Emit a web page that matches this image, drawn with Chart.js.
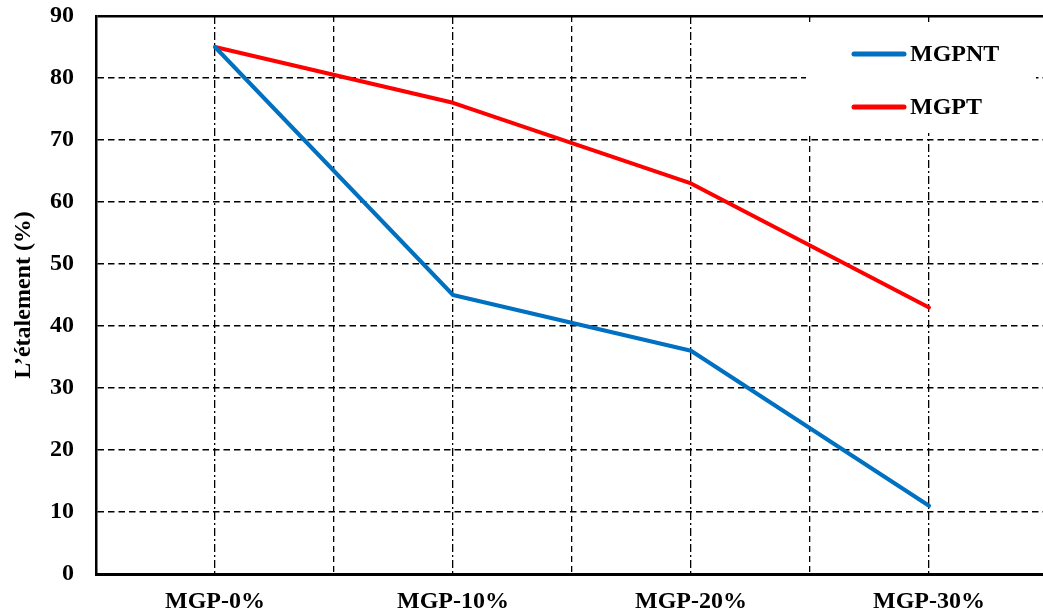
<!DOCTYPE html>
<html><head><meta charset="utf-8">
<script src="https://cdn.jsdelivr.net/npm/chart.js@4"></script>
<style>html,body{margin:0;padding:0;overflow:hidden;background:#fff}#wrap{position:relative;width:1050px;height:616px}</style>
</head><body><div id="wrap"><canvas id="c"></canvas></div>
<script>
const categories = ['MGP-0%', 'MGP-10%', 'MGP-20%', 'MGP-30%'];
const seriesNames = ['MGPNT', 'MGPT'];
const mgpnt = [85, 45, 36, 11];
const mgpt = [85, 76, 63, 43];
const yTicks = [0, 10, 20, 30, 40, 50, 60, 70, 80, 90];
const yTitle = 'L’étalement (%)';

const FONT = '"Liberation Serif", "Times New Roman", serif';
const colors = ['#0070C0', '#FF0000'];

const boxLegend = {
  id: 'boxLegend',
  beforeDatasetsDraw(chart) {
    const ctx = chart.ctx, a = chart.chartArea;
    const bx = a.right - 242, by = a.top + 6, bw = 230, bh = 111;
    ctx.save();
    ctx.fillStyle = '#fff';
    ctx.fillRect(bx, by, bw, bh);
    ctx.font = 'bold 24px ' + FONT;
    ctx.textBaseline = 'middle';
    ctx.fillStyle = '#000';
    ctx.lineCap = 'round';
    chart.data.datasets.forEach((ds, i) => {
      const y = by + 32 + i * 53;
      ctx.strokeStyle = ds.borderColor;
      ctx.lineWidth = 5;
      ctx.beginPath();
      ctx.moveTo(bx + 48, y);
      ctx.lineTo(bx + 98, y);
      ctx.stroke();
      ctx.fillText(ds.label, bx + 104, y + 1);
    });
    ctx.restore();
  }
};

new Chart(document.getElementById('c'), {
  type: 'line',
  data: {
    labels: categories,
    datasets: [
      { label: seriesNames[0], data: mgpnt, borderColor: colors[0], backgroundColor: colors[0], borderWidth: 4, pointRadius: 0, tension: 0, borderCapStyle: 'round', borderJoinStyle: 'round', fill: false },
      { label: seriesNames[1], data: mgpt, borderColor: colors[1], backgroundColor: colors[1], borderWidth: 4, pointRadius: 0, tension: 0, borderCapStyle: 'round', borderJoinStyle: 'round', fill: false }
    ]
  },
  options: {
    responsive: true,
    maintainAspectRatio: false,
    animation: false,
    layout: { padding: { top: 16, right: 2, bottom: 0, left: 0 } },
    plugins: { legend: { display: false }, tooltip: { enabled: false } },
    scales: {
      x: {
        type: 'category',
        position: 'bottom',
        offset: true,
        grid: { offset: false, color: '#000', lineWidth: 1.3, drawTicks: false },
        border: { display: true, color: '#000', width: 3, dash: [8, 3, 2, 3] },
        ticks: { color: '#000', font: { family: FONT, size: 24, weight: 'bold' }, padding: 13, maxRotation: 0 },
        afterFit: s => { s.height = 42; s.paddingLeft = 0; s.paddingRight = 0; }
      },
      x2: {
        type: 'category',
        labels: categories,
        position: 'bottom',
        offset: true,
        grid: { offset: true, color: '#000', lineWidth: 1.3, drawTicks: false },
        border: { display: false, dash: [6, 4] },
        ticks: { display: false },
        afterFit: s => { s.height = 0; s.paddingLeft = 0; s.paddingRight = 0; }
      },
      y: {
        min: 0, max: 90,
        afterBuildTicks: s => { s.ticks = yTicks.map(v => ({ value: v })); },
        grid: {
          drawTicks: false,
          color: c => (c.tick && c.tick.value === 0) ? 'rgba(0,0,0,0)' : '#000',
          lineWidth: c => (c.tick && c.tick.value === 90) ? 2.5 : 1.5
        },
        border: {
          display: true, color: '#000', width: 2.5,
          dash: c => (c.tick && c.tick.value === 90) ? [] : [6.5, 4]
        },
        ticks: { color: '#000', font: { family: FONT, size: 24, weight: 'bold' }, padding: 22 },
        title: { display: true, text: yTitle, color: '#000', font: { family: FONT, size: 24, weight: 'bold' }, padding: { top: 9, bottom: 0 } },
        afterFit: s => { s.width = 96; s.paddingTop = 0; s.paddingBottom = 0; }
      }
    }
  },
  plugins: [boxLegend]
});
</script>
</body></html>
